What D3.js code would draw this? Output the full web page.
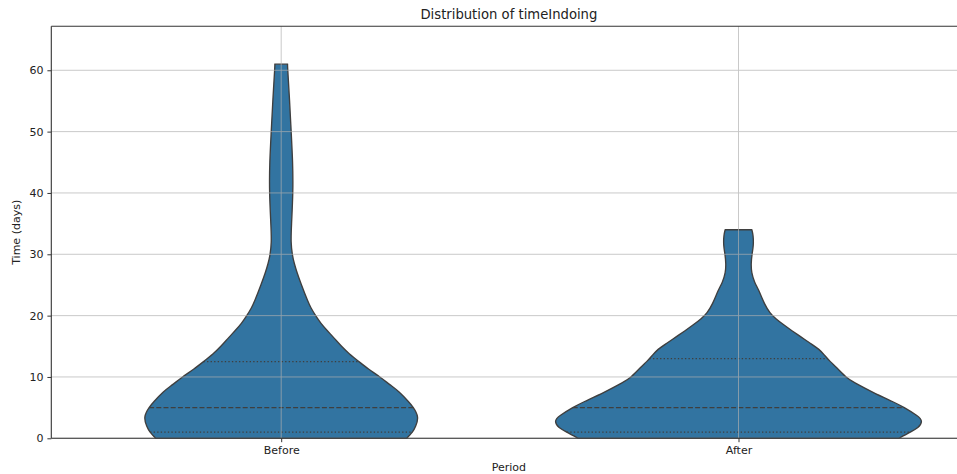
<!DOCTYPE html>
<html>
<head>
<meta charset="utf-8">
<script src="https://cdn.jsdelivr.net/npm/d3@7"></script>
<style>
  html, body { margin: 0; padding: 0; background: #ffffff; }
  svg { display: block; font-family: "DejaVu Sans", sans-serif; }
</style>
</head>
<body>
<svg id="chart" width="957" height="474"></svg>
<script>
// ---------------- data ----------------
const categories = ["Before", "After"];
const yTicks = [0, 10, 20, 30, 40, 50, 60];

// KDE support points (days) and estimated densities, per period (cut at data range)
const beforeY = [0, 1, 2, 3.5, 5, 6, 7.5, 8.75, 10, 11.25, 12.5, 13.75, 15, 16.25, 17.5, 18.75, 20, 21.25, 22.5, 25, 27, 28.5, 30, 32, 35, 40, 45, 50, 55, 60, 61];
const beforeDensity = [0.063, 0.0658, 0.0675, 0.0684, 0.0663, 0.0638, 0.0593, 0.0545, 0.0495, 0.044, 0.039, 0.0343, 0.0303, 0.0268, 0.0233, 0.02, 0.0173, 0.015, 0.0132, 0.0102, 0.008, 0.0066, 0.0056, 0.005, 0.0052, 0.0058, 0.0057, 0.005, 0.0042, 0.0033, 0.0032];

const afterY = [0, 1, 1.75, 2.75, 3.75, 5, 6, 7.5, 9, 10, 11.5, 12.5, 13.5, 14.5, 15.5, 16.5, 17.5, 18.5, 19.5, 20.5, 22, 24, 25.5, 27, 28.5, 30, 31.5, 33, 34];
const afterDensity = [0.0805, 0.0862, 0.09, 0.0918, 0.0893, 0.0832, 0.0772, 0.0675, 0.0587, 0.054, 0.0493, 0.0461, 0.0433, 0.0403, 0.036, 0.0315, 0.027, 0.0227, 0.0188, 0.0158, 0.013, 0.0103, 0.0081, 0.0067, 0.0064, 0.0068, 0.0074, 0.0073, 0.0067];

// quartiles (Q1, median, Q3)
const beforeQuartiles = [1.0, 5.0, 12.5];
const afterQuartiles = [1.0, 5.0, 13.0];

// ---------------- layout ----------------
const W = 957, H = 474;
const plot = { left: 51.3, top: 26.3, bottom: 438.3, right: 966.5 };
const yMax = 67.17;

const svg = d3.select("#chart");

const x = d3.scalePoint().domain(categories).range([281.2, 738.5]);
const step = x(categories[1]) - x(categories[0]);
const y = d3.scaleLinear().domain([0, yMax]).range([plot.bottom, plot.top]);

const series = [
  { cat: "Before", ys: beforeY, ds: beforeDensity, q: beforeQuartiles },
  { cat: "After", ys: afterY, ds: afterDensity, q: afterQuartiles }
];
const maxD = d3.max(series, s => d3.max(s.ds));
const wScale = d3.scaleLinear().domain([0, maxD]).range([0, 0.4 * step]);

const fill = "#3274a1";
const edge = "#3f3f3f";
const lw = 1.35;

const gV = svg.append("g");
series.forEach(s => {
  const cx = x(s.cat);
  const pts = s.ys.map((v, i) => ({ v, d: s.ds[i] }));
  const area = d3.area()
    .y(d => y(d.v))
    .x0(d => cx - wScale(d.d))
    .x1(d => cx + wScale(d.d))
    .curve(d3.curveNatural);
  gV.append("path")
    .attr("d", area(pts))
    .attr("fill", fill)
    .attr("stroke", edge)
    .attr("stroke-width", lw)
    .attr("stroke-linejoin", "round");

  const interp = v => {
    const i = d3.bisectLeft(s.ys, v);
    if (i <= 0) return s.ds[0];
    if (i >= s.ys.length) return s.ds[s.ys.length - 1];
    const t = (v - s.ys[i - 1]) / (s.ys[i] - s.ys[i - 1]);
    return s.ds[i - 1] + t * (s.ds[i] - s.ds[i - 1]);
  };
  s.q.forEach((qv, qi) => {
    const hw = wScale(interp(qv));
    gV.append("line")
      .attr("x1", cx - hw).attr("x2", cx + hw)
      .attr("y1", y(qv)).attr("y2", y(qv))
      .attr("stroke", edge)
      .attr("stroke-width", lw)
      .attr("stroke-dasharray", qi === 1 ? "5,2.2" : "1.35,2.2");
  });
});

// grid (drawn above violins, as in the reference)
const gGrid = svg.append("g").attr("stroke", "#b0b0b0").attr("stroke-width", 0.9).attr("opacity", 0.75);
yTicks.forEach(t => {
  gGrid.append("line").attr("x1", plot.left).attr("x2", W).attr("y1", y(t)).attr("y2", y(t));
});
categories.forEach(c => {
  gGrid.append("line").attr("x1", x(c)).attr("x2", x(c)).attr("y1", plot.top).attr("y2", plot.bottom);
});

// spines
const spine = "#333333";
svg.append("line").attr("x1", plot.left).attr("x2", plot.left).attr("y1", plot.top).attr("y2", plot.bottom)
  .attr("stroke", spine).attr("stroke-width", 1.1);
svg.append("line").attr("x1", plot.left).attr("x2", W).attr("y1", plot.top).attr("y2", plot.top)
  .attr("stroke", spine).attr("stroke-width", 1.1);
svg.append("line").attr("x1", plot.left).attr("x2", W).attr("y1", plot.bottom).attr("y2", plot.bottom)
  .attr("stroke", spine).attr("stroke-width", 1.1);

// axes
const yAxis = d3.axisLeft(y).tickValues(yTicks).tickSize(3.9).tickPadding(3.9);
const gy = svg.append("g").attr("transform", `translate(${plot.left},0)`).call(yAxis);
const xAxis = d3.axisBottom(x).tickSize(3.9).tickPadding(4.2);
const gx = svg.append("g").attr("transform", `translate(0,${plot.bottom})`).call(xAxis);
[gy, gx].forEach(g => {
  g.select(".domain").remove();
  g.selectAll(".tick line").attr("stroke", spine).attr("stroke-width", 1);
  g.selectAll(".tick text").attr("fill", "#222").style("font-size", "11px").style("font-family", "DejaVu Sans, sans-serif");
});

// labels
svg.append("text").attr("x", (plot.left + plot.right) / 2).attr("y", 18.5)
  .attr("text-anchor", "middle").attr("fill", "#222")
  .style("font-size", "13.2px").text("Distribution of timeIndoing");
svg.append("text").attr("x", (plot.left + plot.right) / 2).attr("y", 471)
  .attr("text-anchor", "middle").attr("fill", "#222")
  .style("font-size", "11px").text("Period");
svg.append("text").attr("transform", `translate(20,${(plot.top + plot.bottom) / 2}) rotate(-90)`)
  .attr("text-anchor", "middle").attr("fill", "#222")
  .style("font-size", "11px").text("Time (days)");
</script>
</body>
</html>
